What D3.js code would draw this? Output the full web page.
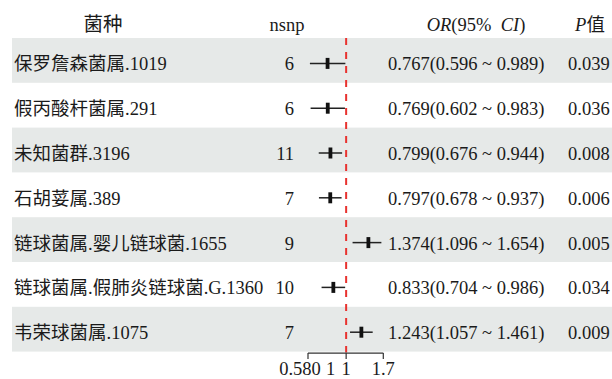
<!DOCTYPE html>
<html>
<head>
<meta charset="utf-8">
<script src="https://cdn.jsdelivr.net/npm/d3@7/dist/d3.min.js"></script>
<style>
  html, body { margin: 0; padding: 0; background: #fff; }
  svg { display: block; }
  text { font-family: "Liberation Serif", "Times New Roman", "Noto Sans CJK SC", serif; fill: #1a1a1a; }
</style>
</head>
<body>
<svg id="chart" width="612" height="379"></svg>
<script>
// Forest plot: MR estimates per bacterial taxon
const species = [
  "保罗詹森菌属.1019",
  "假丙酸杆菌属.291",
  "未知菌群.3196",
  "石胡荽属.389",
  "链球菌属.婴儿链球菌.1655",
  "链球菌属.假肺炎链球菌.G.1360",
  "韦荣球菌属.1075"
];
const nsnp   = [6, 6, 11, 7, 9, 10, 7];
const orVal  = [0.767, 0.769, 0.799, 0.797, 1.374, 0.833, 1.243];
const ciLow  = [0.596, 0.602, 0.676, 0.678, 1.096, 0.704, 1.057];
const ciHigh = [0.989, 0.983, 0.944, 0.937, 1.654, 0.986, 1.461];
const pVal   = ["0.039", "0.036", "0.008", "0.006", "0.005", "0.034", "0.009"];

const tickValues  = [0.58, 1, 1.7];
const tickLabels  = ["0.580", "1", "1", "1.7"];
const tickLabelAt = [0.58, 0.8, 1, 1.7];

const svg = d3.select("#chart");
const fs = 18.5;

const rowTop = 38, rowH = 44.8;
const y = d3.scaleBand().domain(d3.range(species.length))
  .range([rowTop, rowTop + rowH * species.length]).paddingInner(0).paddingOuter(0);
const x = d3.scaleLog().domain([0.58, 1.7]).range([308, 383.3]);

// striped rows
svg.append("g").selectAll("rect")
  .data(d3.range(species.length).filter(i => i % 2 === 0))
  .join("rect")
  .attr("x", 12).attr("width", 600)
  .attr("y", i => y(i)).attr("height", y.bandwidth())
  .attr("fill", "#e6e9e8");

// headers
const hy = 31;
const head = svg.append("g").attr("font-size", fs);
head.append("text").attr("x", 103).attr("y", hy).attr("text-anchor", "middle")
  .attr("font-size", 19.5).text("菌种");
head.append("text").attr("x", 287).attr("y", hy).attr("text-anchor", "middle").text("nsnp");
const orHead = head.append("text").attr("x", 476).attr("y", hy).attr("text-anchor", "middle");
orHead.append("tspan").attr("font-style", "italic").text("OR");
orHead.append("tspan").text("(95%\u00a0\u00a0");
orHead.append("tspan").attr("font-style", "italic").text("CI");
orHead.append("tspan").text(")");
const pHead = head.append("text").attr("x", 590).attr("y", hy).attr("text-anchor", "middle");
pHead.append("tspan").attr("font-style", "italic").text("P");
pHead.append("tspan").text("值");

const rows = svg.append("g").attr("font-size", fs)
  .selectAll("g").data(species.map((s, i) => i)).join("g")
  .attr("transform", i => `translate(0,${y(i) + y.bandwidth() / 2})`);

const ty = 10;
rows.append("text").attr("x", 14).attr("y", ty).text(i => species[i]);
rows.append("text").attr("x", 294).attr("y", ty).attr("text-anchor", "end").text(i => nsnp[i]);
rows.append("text").attr("x", 388).attr("y", ty)
  .text(i => `${orVal[i].toFixed(3)}(${ciLow[i].toFixed(3)} ~ ${ciHigh[i].toFixed(3)})`);
rows.append("text").attr("x", 568).attr("y", ty).text(i => pVal[i]);

// reference line at OR = 1
svg.append("line")
  .attr("x1", x(1)).attr("x2", x(1))
  .attr("y1", rowTop).attr("y2", rowTop + rowH * species.length + 1)
  .attr("stroke", "#e8322f").attr("stroke-width", 2)
  .attr("stroke-dasharray", "7,7");

// confidence intervals and point estimates
const my = 3;
rows.append("line")
  .attr("x1", i => x(ciLow[i])).attr("x2", i => x(ciHigh[i]))
  .attr("y1", my).attr("y2", my)
  .attr("stroke", "#222").attr("stroke-width", 1.5);
rows.append("rect")
  .attr("x", i => x(orVal[i]) - 1.9).attr("width", 3.8)
  .attr("y", my - 5.5).attr("height", 11)
  .attr("fill", "#111");

// x axis (bracket style)
const axY = rowTop + rowH * species.length + 1.5;
const axis = svg.append("g").attr("transform", `translate(0,${axY})`);
axis.append("line").attr("x1", x(tickValues[0])).attr("x2", x(tickValues[tickValues.length - 1]))
  .attr("y1", 0).attr("y2", 0).attr("stroke", "#333").attr("stroke-width", 1.2);
axis.selectAll("line.tick").data(tickValues).join("line").attr("class", "tick")
  .attr("x1", d => x(d)).attr("x2", d => x(d)).attr("y1", 0).attr("y2", 6)
  .attr("stroke", "#333").attr("stroke-width", 1.2);
axis.selectAll("text").data(tickLabels).join("text")
  .attr("font-size", fs)
  .attr("x", (d, i) => i === 0 ? x(tickLabelAt[i]) - 8 : x(tickLabelAt[i]))
  .attr("y", 21.5)
  .attr("text-anchor", "middle")
  .text(d => d);
</script>
</body>
</html>
